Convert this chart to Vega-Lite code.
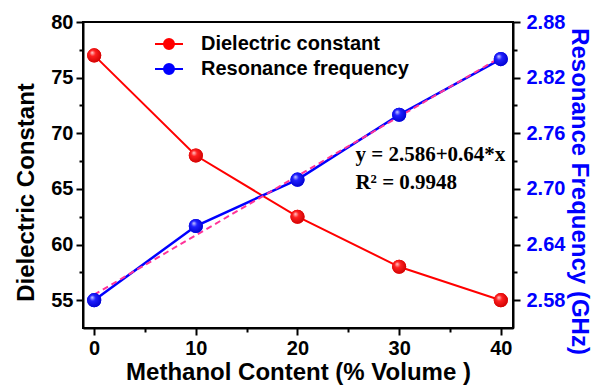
{
  "$schema": "https://vega.github.io/schema/vega-lite/v6.json",
  "width": 430,
  "height": 306,
  "autosize": "none",
  "padding": {"left": 83, "top": 22, "right": 81, "bottom": 57},
  "background": "white",
  "config": {
    "view": {"stroke": "black", "strokeWidth": 2},
    "font": "Liberation Sans",
    "axis": {
      "domainColor": "black", "domainWidth": 2, "tickColor": "black", "tickWidth": 2,
      "grid": false, "labelFont": "Liberation Sans", "labelFontWeight": "bold", "labelFontSize": 20,
      "titleFont": "Liberation Sans", "titleFontWeight": "bold", "labelColor": "black", "titleColor": "black"
    }
  },
  "datasets": {
    "measured": [
      {"methanol": 0, "series": "Dielectric constant", "dielectric": 77.0},
      {"methanol": 10, "series": "Dielectric constant", "dielectric": 68.0},
      {"methanol": 20, "series": "Dielectric constant", "dielectric": 62.5},
      {"methanol": 30, "series": "Dielectric constant", "dielectric": 58.0},
      {"methanol": 40, "series": "Dielectric constant", "dielectric": 55.0},
      {"methanol": 0, "series": "Resonance frequency", "frequency": 2.58},
      {"methanol": 10, "series": "Resonance frequency", "frequency": 2.66},
      {"methanol": 20, "series": "Resonance frequency", "frequency": 2.71},
      {"methanol": 30, "series": "Resonance frequency", "frequency": 2.78},
      {"methanol": 40, "series": "Resonance frequency", "frequency": 2.84}
    ],
    "fit": [
      {"methanol": 0, "frequency": 2.586},
      {"methanol": 40, "frequency": 2.842}
    ],
    "notes": [
      {"methanol": 25.7, "frequency": 2.7366, "label": "y = 2.586+0.64*x"},
      {"methanol": 25.7, "frequency": 2.7064, "label": "R² = 0.9948"}
    ]
  },
  "layer": [
    {
      "data": {"name": "measured"},
      "transform": [{"filter": "datum.series === 'Dielectric constant'"}],
      "encoding": {
        "x": {
          "field": "methanol", "type": "quantitative",
          "scale": {"domain": [-1.1, 41.2], "nice": false, "zero": false},
          "axis": {
            "title": "Methanol Content (% Volume )", "titleFontSize": 24, "titlePadding": 2,
            "values": [0, 5, 10, 15, 20, 25, 30, 35, 40],
            "labelExpr": "datum.value % 10 === 0 ? datum.label : ''",
            "tickSize": {"condition": {"test": "datum.value % 10 !== 0", "value": 4}, "value": 7},
            "labelPadding": 3
          }
        },
        "y": {
          "field": "dielectric", "type": "quantitative",
          "scale": {"domain": [52.5, 80], "nice": false, "zero": false},
          "axis": {
            "title": "Dielectric Constant", "titleFontSize": 24, "titlePadding": 12, "titleY": 170,
            "values": [57.5, 55, 60, 62.5, 65, 67.5, 70, 72.5, 75, 77.5, 80],
            "labelExpr": "datum.value % 5 === 0 ? datum.label : ''",
            "tickSize": {"condition": {"test": "datum.value % 5 !== 0", "value": 4}, "value": 7},
            "labelPadding": 3
          }
        }
      },
      "layer": [
        {
          "mark": {"type": "line", "strokeWidth": 2},
          "encoding": {
            "color": {
              "field": "series", "type": "nominal",
              "scale": {"domain": ["Dielectric constant", "Resonance frequency"], "range": ["#ff0000", "#0000ff"]},
              "legend": {
                "title": null, "orient": "none", "legendX": 76, "legendY": 12,
                "symbolType": "M -2.8 0 L -1 0 M 1 0 L 2.8 0 M -1 0 A 1 1 0 1 0 1 0 A 1 1 0 1 0 -1 0 Z",
                "symbolSize": 100, "symbolStrokeWidth": 2, "labelFontSize": 20, "labelFontWeight": "bold",
                "labelColor": "black", "labelOffset": 22, "rowPadding": 5, "labelFont": "Liberation Sans",
                "labelLimit": 400
              }
            }
          }
        },
        {
          "mark": {"type": "point", "filled": true, "size": 200, "opacity": 1},
          "encoding": {"color": {"field": "series", "type": "nominal"}}
        },
        {
          "mark": {
            "type": "point", "filled": true, "size": 200, "opacity": 1,
            "color": {"gradient": "radial", "x1": 0.35, "y1": 0.3, "r1": 0, "x2": 0.45, "y2": 0.45, "r2": 0.6,
              "stops": [{"offset": 0, "color": "#ffd0d0"}, {"offset": 0.35, "color": "#ff2020"}, {"offset": 1, "color": "#cc0000"}]}
          }
        }
      ]
    },
    {
      "encoding": {
        "x": {"field": "methanol", "type": "quantitative"},
        "y": {
          "field": "frequency", "type": "quantitative",
          "scale": {"domain": [2.55, 2.88], "nice": false, "zero": false},
          "axis": {
            "orient": "right", "title": "Resonance Frequency (GHz)", "titleFontSize": 24, "titleColor": "#0000ff",
            "titlePadding": 2, "titleY": 169, "labelColor": "#0000ff",
            "values": [2.58, 2.61, 2.64, 2.67, 2.7, 2.73, 2.76, 2.79, 2.82, 2.85, 2.88],
            "labelExpr": "indexof([2.61, 2.67, 2.73, 2.79, 2.85], datum.value) >= 0 ? '' : format(datum.value, '.2f')",
            "tickSize": {"condition": {"test": "indexof([2.61, 2.67, 2.73, 2.79, 2.85], datum.value) >= 0", "value": 4}, "value": 7},
            "labelPadding": 6
          }
        }
      },
      "layer": [
        {
          "data": {"name": "measured"},
          "transform": [{"filter": "datum.series === 'Resonance frequency'"}],
          "mark": {"type": "line", "strokeWidth": 2.5},
          "encoding": {"color": {"field": "series", "type": "nominal"}}
        },
        {
          "data": {"name": "fit"},
          "mark": {"type": "line", "strokeWidth": 2, "strokeDash": [6, 4], "color": "#ff3399"},
          "encoding": {}
        },
        {
          "data": {"name": "measured"},
          "transform": [{"filter": "datum.series === 'Resonance frequency'"}],
          "mark": {"type": "point", "filled": true, "size": 200, "opacity": 1},
          "encoding": {"color": {"field": "series", "type": "nominal"}}
        },
        {
          "data": {"name": "measured"},
          "transform": [{"filter": "datum.series === 'Resonance frequency'"}],
          "mark": {
            "type": "point", "filled": true, "size": 200, "opacity": 1,
            "color": {"gradient": "radial", "x1": 0.35, "y1": 0.3, "r1": 0, "x2": 0.45, "y2": 0.45, "r2": 0.6,
              "stops": [{"offset": 0, "color": "#d0d0ff"}, {"offset": 0.35, "color": "#2020ff"}, {"offset": 1, "color": "#0000cc"}]}
          }
        },
        {
          "data": {"name": "notes"},
          "mark": {"type": "text", "align": "left", "baseline": "middle", "font": "Liberation Serif", "fontWeight": "bold", "fontSize": 21, "color": "black"},
          "encoding": {"text": {"field": "label"}}
        }
      ]
    }
  ],
  "resolve": {"scale": {"y": "independent"}}
}
